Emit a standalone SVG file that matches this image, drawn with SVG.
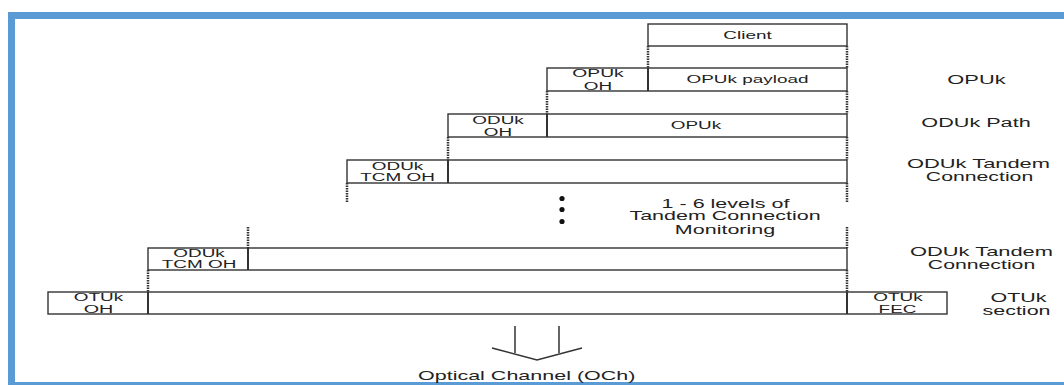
<svg xmlns="http://www.w3.org/2000/svg" width="1064" height="385" viewBox="0 0 1064 385">
<style>
.frame{fill:#5B9BD5}
.box{fill:#fff;stroke:#333;stroke-width:1.4}
.div{stroke:#333;stroke-width:2}
.dash{stroke:#333;stroke-width:2.5;stroke-dasharray:1.5 1;fill:none}
.ln{stroke:#333;stroke-width:1.5;fill:none}
text{font-family:"Liberation Sans",Arial,sans-serif;fill:#222;text-anchor:middle}
.s{font-size:11px}
.m{font-size:12.5px}
</style>
<rect width="1064" height="385" fill="#fff"/>
<g id="frame">
<rect class="frame" x="8" y="12" width="1056" height="7"/>
<rect class="frame" x="8" y="12" width="7" height="373"/>
<rect class="frame" x="8" y="382" width="1056" height="3"/>
</g>
<g id="connectors">
<line class="dash" x1="648" y1="46" x2="648" y2="68"/>
<line class="dash" x1="847" y1="46" x2="847" y2="68"/>
<line class="dash" x1="547" y1="91" x2="547" y2="114"/>
<line class="dash" x1="847" y1="91" x2="847" y2="114"/>
<line class="dash" x1="448" y1="137" x2="448" y2="160"/>
<line class="dash" x1="847" y1="137" x2="847" y2="160"/>
<line class="dash" x1="347" y1="183" x2="347" y2="203"/>
<line class="dash" x1="847" y1="183" x2="847" y2="203"/>
<line class="dash" x1="248" y1="227" x2="248" y2="248"/>
<line class="dash" x1="847" y1="227" x2="847" y2="248"/>
<line class="dash" x1="148" y1="270" x2="148" y2="292"/>
<line class="dash" x1="847" y1="270" x2="847" y2="292"/>
<g id="och-arrow">
<line class="ln" x1="515" y1="326" x2="515" y2="353"/>
<line class="ln" x1="559" y1="326" x2="559" y2="353"/>
<polyline class="ln" points="492,348 537,360 582,348"/>
</g>
</g>
<g id="client">
<rect class="box" x="648" y="24" width="199" height="22"/>
<text class="s" transform="translate(747.5 39) scale(1.72 1)">Client</text>
</g>
<g id="opuk">
<rect class="box" x="547" y="68" width="300" height="23"/>
<line class="div" x1="648" y1="68" x2="648" y2="91"/>
<text class="s" transform="translate(598 77) scale(1.75 1)">OPUk</text>
<text class="s" transform="translate(598 90) scale(1.72 1)">OH</text>
<text class="s" transform="translate(747.5 83) scale(1.72 1)">OPUk payload</text>
</g>
<g id="oduk-path">
<rect class="box" x="448" y="114" width="399" height="23"/>
<line class="div" x1="547" y1="114" x2="547" y2="137"/>
<text class="s" transform="translate(498 123.5) scale(1.72 1)">ODUk</text>
<text class="s" transform="translate(498 136) scale(1.72 1)">OH</text>
<text class="s" transform="translate(696 129) scale(1.72 1)">OPUk</text>
</g>
<g id="oduk-tcm-1">
<rect class="box" x="347" y="160" width="500" height="23"/>
<line class="div" x1="448" y1="160" x2="448" y2="183"/>
<text class="s" transform="translate(397.5 169.5) scale(1.72 1)">ODUk</text>
<text class="s" transform="translate(397.5 180.5) scale(1.72 1)">TCM OH</text>
</g>
<g id="tcm-levels">
<circle cx="562" cy="198.5" r="2.6" fill="#111"/>
<circle cx="562" cy="209.5" r="2.6" fill="#111"/>
<circle cx="562" cy="221.5" r="2.6" fill="#111"/>
<text class="m" transform="translate(725.5 207.5) scale(1.72 1)">1 - 6 levels of</text>
<text class="m" transform="translate(725 220) scale(1.72 1)">Tandem Connection</text>
<text class="m" transform="translate(725 234) scale(1.72 1)">Monitoring</text>
</g>
<g id="oduk-tcm-2">
<rect class="box" x="148" y="248" width="699" height="22"/>
<line class="div" x1="248" y1="248" x2="248" y2="270"/>
<text class="s" transform="translate(199 256.5) scale(1.72 1)">ODUk</text>
<text class="s" transform="translate(199 268) scale(1.72 1)">TCM OH</text>
</g>
<g id="otuk">
<rect class="box" x="48" y="292" width="899" height="22"/>
<line class="div" x1="148" y1="292" x2="148" y2="314"/>
<line class="div" x1="847" y1="292" x2="847" y2="314"/>
<text class="s" transform="translate(98.5 300.5) scale(1.72 1)">OTUk</text>
<text class="s" transform="translate(98.5 313) scale(1.8 1)">OH</text>
<text class="s" transform="translate(898 300.5) scale(1.72 1)">OTUk</text>
<text class="s" transform="translate(897.5 313) scale(1.72 1)">FEC</text>
</g>
<g id="labels">
<text class="m" transform="translate(976.5 83.5) scale(1.75 1)">OPUk</text>
<text class="m" transform="translate(976 126.5) scale(1.73 1)">ODUk Path</text>
<text class="m" transform="translate(978.5 167.5) scale(1.75 1)">ODUk Tandem</text>
<text class="m" transform="translate(979.5 180.5) scale(1.7 1)">Connection</text>
<text class="m" transform="translate(981.5 256) scale(1.75 1)">ODUk Tandem</text>
<text class="m" transform="translate(981.5 268.5) scale(1.7 1)">Connection</text>
<text class="m" transform="translate(1018.5 301.5) scale(1.72 1)">OTUk</text>
<text class="m" transform="translate(1016.5 315) scale(1.72 1)">section</text>
<text class="m" transform="translate(526.7 379.5) scale(1.72 1)">Optical Channel (OCh)</text>
</g>
</svg>
